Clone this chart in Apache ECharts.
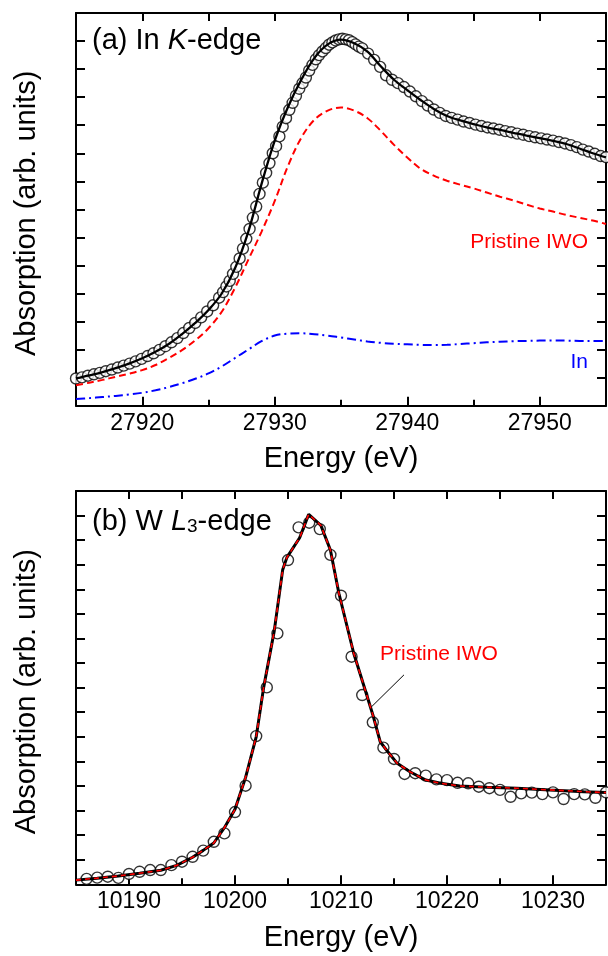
<!DOCTYPE html>
<html>
<head>
<meta charset="utf-8">
<script src="https://cdn.jsdelivr.net/npm/echarts@6/dist/echarts.min.js"></script>
<style>
  html, body { margin: 0; padding: 0; background: #fff; }
  #chart { width: 608px; height: 956px; }
</style>
</head>
<body>
<div id="chart"></div>
<script>
// ---------- (a) In K-edge ----------
const kEnergy = [27915, 27916, 27917, 27918, 27919, 27920, 27921, 27922, 27923, 27924,
  27925, 27926, 27927, 27928, 27929, 27930, 27931, 27932, 27933, 27934,
  27935, 27936, 27937, 27938, 27939, 27940, 27941, 27942, 27943, 27944,
  27945, 27946, 27947, 27948, 27949, 27950, 27951, 27952, 27953, 27954, 27955];
// linear-combination fit (solid black)
const kFit = [0.97, 1.08, 1.2, 1.34, 1.5, 1.69, 1.92, 2.2, 2.55, 2.95,
  3.41, 4.0, 4.9, 6.2, 7.9, 9.45, 10.65, 11.62, 12.4, 12.88,
  13.05, 12.92, 12.62, 12.1, 11.62, 11.25, 10.9, 10.58, 10.33, 10.17,
  10.04, 9.92, 9.83, 9.73, 9.63, 9.54, 9.44, 9.33, 9.17, 9.0, 8.85];
// Pristine IWO component (red dashed)
const kPristine = [0.73, 0.82, 0.92, 1.03, 1.14, 1.27, 1.45, 1.7, 1.98, 2.33,
  2.76, 3.35, 4.2, 5.2, 6.2, 7.3, 8.55, 9.55, 10.2, 10.52,
  10.63, 10.52, 10.25, 9.8, 9.3, 8.85, 8.45, 8.2, 8.02, 7.88,
  7.75, 7.6, 7.45, 7.32, 7.17, 7.03, 6.92, 6.8, 6.7, 6.6, 6.48];
// In metal component (blue dash-dot)
const kIn = [0.24, 0.27, 0.31, 0.35, 0.4, 0.46, 0.55, 0.66, 0.8, 0.96,
  1.15, 1.4, 1.7, 2.0, 2.3, 2.5, 2.57, 2.58, 2.55, 2.5,
  2.43, 2.36, 2.29, 2.24, 2.21, 2.19, 2.17, 2.16, 2.17, 2.2,
  2.23, 2.26, 2.28, 2.3, 2.31, 2.32, 2.32, 2.32, 2.31, 2.31, 2.31];
// measured spectrum (open circles); finer steps across the edge
const kMeasE = [27915.0, 27915.45, 27915.9, 27916.35, 27916.8, 27917.25, 27917.7, 27918.15, 27918.6, 27919.05,
  27919.5, 27919.95, 27920.4, 27920.85, 27921.3, 27921.75, 27922.2, 27922.65, 27923.1, 27923.55,
  27924.0, 27924.45, 27924.9, 27925.35, 27925.8,
  27926.1, 27926.35, 27926.6, 27926.85, 27927.1, 27927.35, 27927.6, 27927.85, 27928.1, 27928.35,
  27928.6, 27928.85, 27929.1, 27929.35, 27929.6, 27929.85, 27930.1, 27930.35, 27930.6, 27930.85,
  27931.1, 27931.35, 27931.6, 27931.85, 27932.1, 27932.35, 27932.6, 27932.85, 27933.1, 27933.35,
  27933.6, 27933.85, 27934.1, 27934.35, 27934.6, 27934.85, 27935.1, 27935.35, 27935.6, 27935.85,
  27936.1, 27936.35,
  27936.6, 27937.05, 27937.5, 27937.95, 27938.4, 27938.85, 27939.3, 27939.75, 27940.2, 27940.65,
  27941.1, 27941.55, 27942.0, 27942.45, 27942.9, 27943.35, 27943.8, 27944.25, 27944.7, 27945.15,
  27945.6, 27946.05, 27946.5, 27946.95, 27947.4, 27947.85, 27948.3, 27948.75, 27949.2, 27949.65,
  27950.1, 27950.55, 27951.0, 27951.45, 27951.9, 27952.35, 27952.8, 27953.25, 27953.7, 27954.15,
  27954.6, 27955.0];
const kMeasAbs = [0.97, 1.01, 1.07, 1.12, 1.17, 1.23, 1.29, 1.36, 1.43, 1.5,
  1.58, 1.67, 1.77, 1.87, 1.99, 2.12, 2.26, 2.41, 2.59, 2.77,
  2.95, 3.15, 3.36, 3.58, 3.85,
  4.05, 4.25, 4.45, 4.7, 4.95, 5.25, 5.6, 5.95, 6.3, 6.7,
  7.1, 7.55, 7.95, 8.3, 8.65, 9.0, 9.25, 9.6, 9.95, 10.25,
  10.55, 10.8, 11.05, 11.3, 11.5, 11.7, 11.95, 12.15, 12.35, 12.5,
  12.63, 12.75, 12.87, 12.95, 13.02, 13.06, 13.08, 13.06, 13.03, 12.96,
  12.88, 12.8,
  12.74, 12.55, 12.33, 12.08, 11.78, 11.62, 11.5, 11.36, 11.2, 11.03,
  10.86, 10.7, 10.56, 10.44, 10.33, 10.26, 10.2, 10.13, 10.08, 10.02,
  9.97, 9.92, 9.88, 9.84, 9.79, 9.75, 9.7, 9.66, 9.61, 9.57,
  9.53, 9.49, 9.45, 9.4, 9.35, 9.29, 9.22, 9.13, 9.06, 8.98,
  8.9, 8.86];
const kMajorTicks = [27920, 27930, 27940, 27950];
const kMinorTicks = [27925, 27935, 27945];
const kTopTicks = [27920, 27925, 27930, 27935, 27940, 27945, 27950];

// ---------- (b) W L3-edge ----------
const lMeasE = [10186, 10187, 10188, 10189, 10190, 10191, 10192, 10193, 10194, 10195,
  10196, 10197, 10198, 10199, 10200, 10201, 10202, 10203, 10204, 10205,
  10206, 10207, 10208, 10209, 10210, 10211, 10212, 10213, 10214, 10215,
  10216, 10217, 10218, 10219, 10220, 10221, 10222, 10223, 10224, 10225,
  10226, 10227, 10228, 10229, 10230, 10231, 10232, 10233, 10234, 10235];
const lMeasAbs = [0.22, 0.27, 0.31, 0.26, 0.42, 0.51, 0.58, 0.58, 0.78, 0.92,
  1.12, 1.37, 1.73, 2.07, 2.94, 4.01, 6.03, 8.01, 10.21, 13.19,
  14.52, 14.71, 14.45, 13.4, 11.74, 9.26, 7.7, 6.59, 5.56, 5.1,
  4.49, 4.52, 4.42, 4.27, 4.24, 4.13, 4.11, 3.97, 3.91, 3.84,
  3.56, 3.7, 3.73, 3.67, 3.74, 3.47, 3.67, 3.66, 3.52, 3.74];
// fitted Pristine IWO spectrum (the fit is 100 % Pristine IWO, so the
// black fit line and the red dashed reference share these values)
const lPristineE = [10185, 10187, 10189, 10191, 10193, 10194.5, 10196, 10197, 10198, 10199,
  10200, 10201, 10202, 10202.7, 10203.7, 10204.5, 10204.9, 10206.1, 10206.95, 10208.1,
  10209.0, 10209.8, 10211.2, 10212.5, 10213, 10213.7, 10214.4, 10215.3, 10216.5, 10218,
  10219.4, 10221.2, 10223.8, 10226.6, 10229.7, 10232.9, 10235];
const lPristineAbs = [0.17, 0.25, 0.34, 0.45, 0.57, 0.77, 1.1, 1.38, 1.68, 2.3,
  3.05, 4.35, 6.0, 8.0, 10.3, 12.8, 13.3, 14.1, 15.05, 14.6,
  13.6, 11.84, 9.4, 7.6, 6.9, 5.8, 5.4, 4.92, 4.58, 4.24,
  4.11, 4.0, 3.95, 3.91, 3.84, 3.77, 3.73];
const lMajorTicks = [10190, 10200, 10210, 10220, 10230];
const lMinorTicks = [10195, 10205, 10215, 10225];
const lTopTicks = [10190, 10195, 10200, 10205, 10210, 10215, 10220, 10225, 10230];

// ---------- styling helpers ----------
const FONT = '"Liberation Sans", Arial, Helvetica, sans-serif';
const BLACK = '#000';
const zip = (xs, ys) => xs.map((x, i) => [x, ys[i]]);

function xMain(grid, min, max, ticks) {
  return {
    type: 'value', gridIndex: grid, position: 'bottom', min: min, max: max,
    axisLine: { show: true, onZero: false, lineStyle: { color: BLACK, width: 2 } },
    axisTick: { show: true, inside: true, length: 9, customValues: ticks, lineStyle: { color: BLACK, width: 2 } },
    axisLabel: { show: true, customValues: ticks, margin: 6, color: BLACK, fontSize: 23, fontFamily: FONT,
      formatter: v => String(v) },
    splitLine: { show: false },
    name: 'Energy (eV)', nameLocation: 'middle', nameGap: 39,
    nameTextStyle: { color: BLACK, fontSize: 29, fontFamily: FONT }
  };
}
function xExtra(grid, min, max, ticks, pos, len, line) {
  return {
    type: 'value', gridIndex: grid, position: pos, min: min, max: max,
    axisLine: { show: line, onZero: false, lineStyle: { color: BLACK, width: 2 } },
    axisTick: { show: true, inside: true, length: len, customValues: ticks, lineStyle: { color: BLACK, width: 2 } },
    axisLabel: { show: false },
    splitLine: { show: false }
  };
}
function yAxisDef(grid, max, pos, withName) {
  const ax = {
    type: 'value', gridIndex: grid, position: pos, min: 0, max: max, interval: 1,
    axisLine: { show: true, onZero: false, lineStyle: { color: BLACK, width: 2 } },
    axisTick: { show: true, inside: true, length: 9, lineStyle: { color: BLACK, width: 2 } },
    axisLabel: { show: false },
    splitLine: { show: false }
  };
  if (withName) {
    ax.name = 'Absorption (arb. units)';
    ax.nameLocation = 'middle';
    ax.nameGap = 35;
    ax.nameTextStyle = { color: BLACK, fontSize: 29, fontFamily: FONT, padding: [0, 8, 0, 0] };
  }
  return ax;
}
const circleStyle = { color: '#fff', borderColor: BLACK, borderWidth: 1.4 };

const chart = echarts.init(document.getElementById('chart'), null, { renderer: 'canvas' });
chart.setOption({
  animation: false,
  backgroundColor: '#fff',
  grid: [
    { left: 76, right: 2, top: 13, bottom: 550.3, outerBoundsMode: 'none' },
    { left: 76, right: 2, top: 491, bottom: 71.7, outerBoundsMode: 'none' }
  ],
  xAxis: [
    xMain(0, 27915, 27955, kMajorTicks),
    xExtra(0, 27915, 27955, kMinorTicks, 'bottom', 6, false),
    xExtra(0, 27915, 27955, kTopTicks, 'top', 8, true),
    xMain(1, 10185, 10235, lMajorTicks),
    xExtra(1, 10185, 10235, lMinorTicks, 'bottom', 6, false),
    xExtra(1, 10185, 10235, lTopTicks, 'top', 8, true)
  ],
  yAxis: [
    yAxisDef(0, 14, 'left', true),
    yAxisDef(0, 14, 'right', false),
    yAxisDef(1, 16, 'left', true),
    yAxisDef(1, 16, 'right', false)
  ],
  series: [
    // (a)
    { type: 'scatter', xAxisIndex: 0, yAxisIndex: 0, data: zip(kMeasE, kMeasAbs),
      symbol: 'circle', symbolSize: 11, itemStyle: circleStyle, z: 2, silent: true },
    { type: 'line', xAxisIndex: 0, yAxisIndex: 0, data: zip(kEnergy, kPristine), smooth: 0.35,
      showSymbol: false, lineStyle: { color: '#ff0000', width: 2, type: [7, 4] }, z: 3, silent: true },
    { type: 'line', xAxisIndex: 0, yAxisIndex: 0, data: zip(kEnergy, kIn), smooth: 0.35,
      showSymbol: false, lineStyle: { color: '#0000ff', width: 2, type: [9, 4, 2, 4] }, z: 3, silent: true },
    { type: 'line', xAxisIndex: 0, yAxisIndex: 0, data: zip(kEnergy, kFit), smooth: 0.35,
      showSymbol: false, lineStyle: { color: BLACK, width: 2.3 }, z: 4, silent: true },
    // (b)
    { type: 'scatter', xAxisIndex: 3, yAxisIndex: 2, data: zip(lMeasE, lMeasAbs),
      symbol: 'circle', symbolSize: 11, itemStyle: circleStyle, z: 2, silent: true },
    { type: 'line', xAxisIndex: 3, yAxisIndex: 2, data: zip(lPristineE, lPristineAbs),
      showSymbol: false, lineStyle: { color: BLACK, width: 3 }, z: 4, silent: true },
    { type: 'line', xAxisIndex: 3, yAxisIndex: 2, data: zip(lPristineE, lPristineAbs),
      showSymbol: false, lineStyle: { color: '#ff0000', width: 1.6, type: [5, 4] }, z: 5, silent: true,
      markLine: {
        silent: true, symbol: 'none', label: { show: false },
        lineStyle: { color: BLACK, width: 1, type: 'solid' },
        data: [[{ coord: [10215.94, 8.52] }, { coord: [10212.9, 7.23] }]]
      } }
  ],
  graphic: [
    { type: 'text', left: 92, top: 26, style: {
        text: '{n|(a) In }{i|K}{n|-edge}',
        rich: {
          n: { fontSize: 29, fontFamily: FONT, fill: BLACK },
          i: { fontSize: 29, fontFamily: FONT, fontStyle: 'italic', fill: BLACK }
        } } },
    { type: 'text', left: 92, top: 507, style: {
        text: '{n|(b) W }{i|L}{s|3}{n|-edge}',
        rich: {
          n: { fontSize: 29, fontFamily: FONT, fill: BLACK, verticalAlign: 'bottom', lineHeight: 32 },
          i: { fontSize: 29, fontFamily: FONT, fontStyle: 'italic', fill: BLACK, verticalAlign: 'bottom', lineHeight: 32 },
          s: { fontSize: 19, fontFamily: FONT, fill: BLACK, verticalAlign: 'bottom', lineHeight: 18 }
        } } },
    { type: 'text', x: 588, y: 242, style: { text: 'Pristine IWO', fill: '#ff0000',
        font: '21px ' + FONT, textAlign: 'right', textVerticalAlign: 'middle' } },
    { type: 'text', x: 588, y: 362, style: { text: 'In', fill: '#0000ff',
        font: '21px ' + FONT, textAlign: 'right', textVerticalAlign: 'middle' } },
    { type: 'text', x: 380, y: 654, style: { text: 'Pristine IWO', fill: '#ff0000',
        font: '21px ' + FONT, textAlign: 'left', textVerticalAlign: 'middle' } }
  ]
});
</script>
</body>
</html>
